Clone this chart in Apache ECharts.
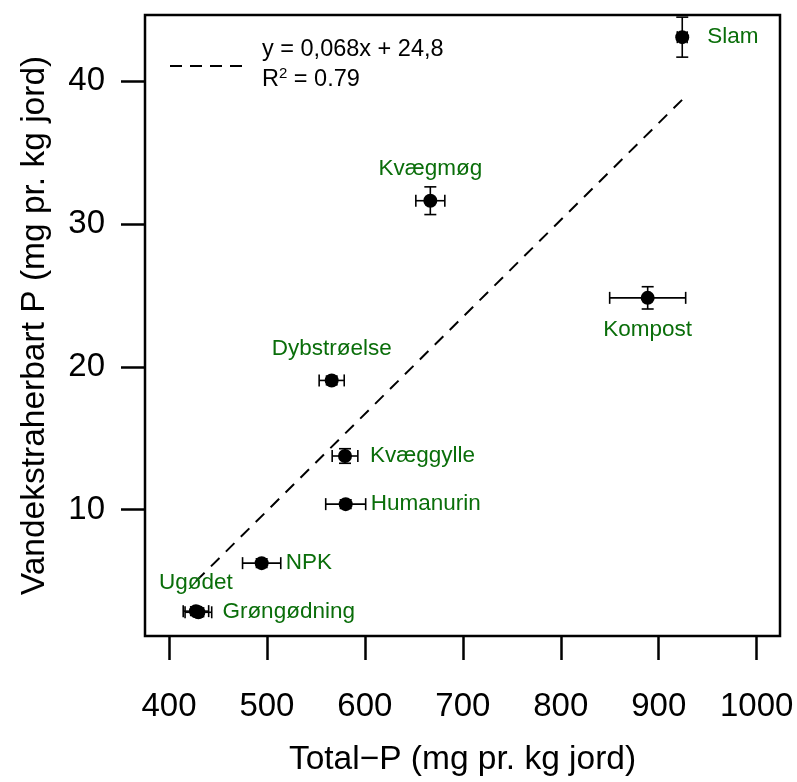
<!DOCTYPE html>
<html>
<head>
<meta charset="utf-8">
<script src="https://cdn.jsdelivr.net/npm/echarts@6/dist/echarts.min.js"></script>
<style>
  html, body { margin: 0; padding: 0; background: #fff; }
  #chart { width: 797px; height: 782px; }
</style>
</head>
<body>
<div id="chart"></div>
<script>
// values
const labels = ["Slam", "Kvægmøg", "Kompost", "Dybstrøelse", "Kvæggylle", "Humanurin", "NPK", "Ugødet", "Grøngødning"];
const totalP = [924, 666.8, 888.7, 566.1, 579.7, 580.4, 494.6, 427.5, 430];
const waterP = [43.08, 31.63, 24.83, 19.05, 13.76, 10.39, 6.26, 2.9, 2.82];
const totalPErr = [5, 14.8, 38.8, 12.8, 13.1, 20.4, 19.5, 13, 13.6];
const waterPErr = [1.4, 0.97, 0.78, 0.3, 0.51, 0.3, 0.3, 0.3, 0.3];
const fitX = [427.6, 924];
const fitY = [5.0, 38.7];
const xTicks = [400, 500, 600, 700, 800, 900, 1000];
const yTicks = [10, 20, 30, 40];

const FONT = "Liberation Sans";
const GREEN = "#0a6e0a";

// where each label sits relative to its point
const labelPlace = {
  "Slam": { position: "right", distance: 18 },
  "Kvægmøg": { position: "top", distance: 13 },
  "Kompost": { position: "bottom", distance: 13 },
  "Dybstrøelse": { position: "top", distance: 13 },
  "Kvæggylle": { position: "right", distance: 18 },
  "Humanurin": { position: "right", distance: 18 },
  "NPK": { position: "right", distance: 17 },
  "Ugødet": { position: "top", distance: 14, offset: [0, 4] },
  "Grøngødning": { position: "right", distance: 17 },
};

const points = labels.map((name, i) => ({
  name,
  value: [totalP[i], waterP[i]],
  label: Object.assign({ show: true, formatter: name }, labelPlace[name]),
}));

const errData = labels.map((name, i) => [totalP[i], waterP[i], totalPErr[i], waterPErr[i]]);

function renderError(params, api) {
  const x = api.value(0), y = api.value(1), dx = api.value(2), dy = api.value(3);
  const left = api.coord([x - dx, y]);
  const right = api.coord([x + dx, y]);
  const top = api.coord([x, y + dy]);
  const bottom = api.coord([x, y - dy]);
  const cap = 6;
  const style = { stroke: "#000", lineWidth: 1.6 };
  const seg = (x1, y1, x2, y2) => ({ type: "line", shape: { x1, y1, x2, y2 }, style });
  return {
    type: "group",
    children: [
      seg(left[0], left[1], right[0], right[1]),
      seg(left[0], left[1] - cap, left[0], left[1] + cap),
      seg(right[0], right[1] - cap, right[0], right[1] + cap),
      seg(top[0], top[1], bottom[0], bottom[1]),
      seg(top[0] - cap, top[1], top[0] + cap, top[1]),
      seg(bottom[0] - cap, bottom[1], bottom[0] + cap, bottom[1]),
    ],
  };
}

const chart = echarts.init(document.getElementById("chart"));
chart.setOption({
  animation: false,
  textStyle: { fontFamily: FONT },
  grid: { left: 145, right: 17, top: 15, bottom: 143, show: true, borderColor: "#000", borderWidth: 2.5 },
  xAxis: {
    type: "value",
    min: 375.5,
    max: 1023.8,
    name: "Total\u2212P (mg pr. kg jord)",
    nameLocation: "middle",
    nameGap: 107,
    nameTextStyle: { fontSize: 33.5, color: "#000", fontFamily: FONT },
    axisLine: { show: false, onZero: false },
    splitLine: { show: false },
    axisTick: { show: true, length: 24, customValues: xTicks, lineStyle: { color: "#000", width: 2.5 } },
    axisLabel: { customValues: xTicks, margin: 54, fontSize: 33, color: "#000", fontFamily: FONT, formatter: (v) => String(v) },
  },
  yAxis: {
    type: "value",
    min: 1.16,
    max: 44.63,
    name: "Vandekstraherbart P (mg pr. kg jord)",
    nameLocation: "middle",
    nameGap: 93,
    nameTextStyle: { fontSize: 33.5, color: "#000", fontFamily: FONT },
    axisLine: { show: false, onZero: false },
    splitLine: { show: false },
    axisTick: { show: true, length: 24, customValues: yTicks, lineStyle: { color: "#000", width: 2.5 } },
    axisLabel: { customValues: yTicks, margin: 40, fontSize: 33, color: "#000", fontFamily: FONT, formatter: (v) => String(v) },
  },
  graphic: [
    { type: "line", shape: { x1: 170, y1: 66, x2: 243, y2: 66 }, style: { stroke: "#000", lineWidth: 2, lineDash: [12, 8] } },
    { type: "text", x: 262, y: 50, style: { text: "y = 0,068x + 24,8", fontSize: 23.5, fontFamily: FONT, fill: "#000", verticalAlign: "middle" } },
    {
      type: "text", x: 262, y: 80,
      style: {
        text: "R{sup|2} = 0.79",
        fontSize: 23.5, fontFamily: FONT, fill: "#000", verticalAlign: "middle",
        rich: { sup: { fontSize: 15, verticalAlign: "top", padding: [0, 0, 12, 0], fontFamily: FONT } },
      },
    },
  ],
  series: [
    {
      name: "fit",
      type: "line",
      data: fitX.map((x, i) => [x, fitY[i]]),
      showSymbol: false,
      lineStyle: { color: "#000", width: 2, type: [12, 9] },
      silent: true,
      z: 1,
    },
    {
      name: "err",
      type: "custom",
      renderItem: renderError,
      data: errData,
      z: 2,
    },
    {
      name: "points",
      type: "scatter",
      data: points,
      symbolSize: 14,
      itemStyle: { color: "#000", opacity: 1 },
      label: { color: GREEN, fontSize: 22.5, fontFamily: FONT, opacity: 1 },
      z: 3,
    },
  ],
});
</script>
</body>
</html>
